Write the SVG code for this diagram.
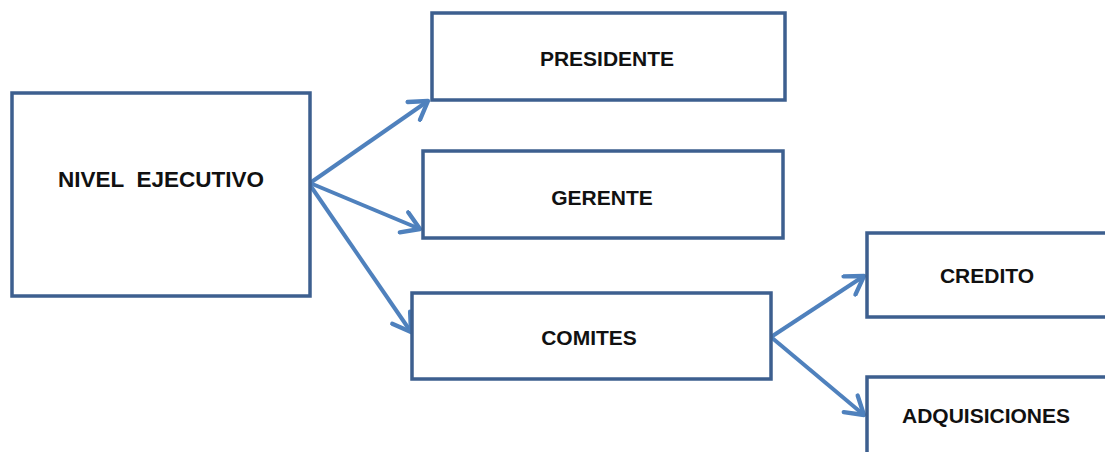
<svg xmlns="http://www.w3.org/2000/svg" width="1105" height="452" viewBox="0 0 1105 452">
<style>
.box{fill:#fff;stroke:#3d5f8f;stroke-width:3.5}
.lbl{font-family:"Liberation Sans",Arial,sans-serif;font-weight:bold;font-size:21px;fill:#111;text-anchor:middle}
.con{stroke:#4f81bd;stroke-width:4;fill:none;marker-end:url(#ah)}
</style>
<defs>
<marker id="ah" viewBox="0 0 12 12" refX="10" refY="6" markerWidth="6.5" markerHeight="6.5" orient="auto" markerUnits="strokeWidth">
<path d="M2,1 L10,6 L2,11" fill="none" stroke="#4f81bd" stroke-width="2" stroke-linecap="round" stroke-linejoin="round"/>
</marker>
</defs>
<rect width="1105" height="452" fill="#fff"/>
<g id="connectors">
<line class="con" x1="310" y1="183" x2="428" y2="101"/>
<line class="con" x1="310" y1="183" x2="420" y2="229"/>
<line class="con" x1="310" y1="185" x2="411" y2="332"/>
<line class="con" x1="771" y1="337" x2="864" y2="276"/>
<line class="con" x1="771" y1="337" x2="864" y2="415"/>
</g>
<g id="nivel">
<rect class="box" x="12" y="93" width="298" height="203"/>
<text class="lbl" x="161" y="187" xml:space="preserve" style="font-size:22.5px">NIVEL  EJECUTIVO</text>
</g>
<g id="presidente">
<rect class="box" x="432" y="13" width="353" height="87"/>
<text class="lbl" x="607" y="66">PRESIDENTE</text>
</g>
<g id="gerente">
<rect class="box" x="423" y="151" width="360" height="87"/>
<text class="lbl" x="602" y="205">GERENTE</text>
</g>
<g id="comites">
<rect class="box" x="412" y="293" width="359" height="86"/>
<text class="lbl" x="589" y="345">COMITES</text>
</g>
<g id="credito">
<rect class="box" x="867" y="233" width="250" height="84"/>
<text class="lbl" x="987" y="283">CREDITO</text>
</g>
<g id="adquisiciones">
<rect class="box" x="867" y="377" width="250" height="90"/>
<text class="lbl" x="986" y="423">ADQUISICIONES</text>
</g>
</svg>
